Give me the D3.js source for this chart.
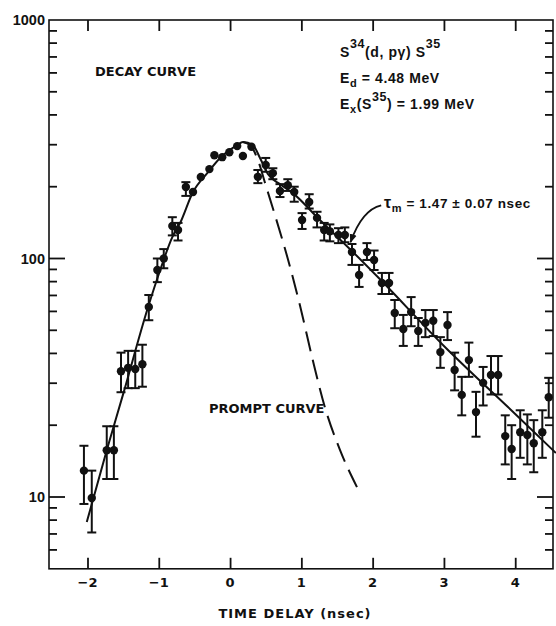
<!DOCTYPE html>
<html>
<head>
<meta charset="utf-8">
<script src="https://cdn.jsdelivr.net/npm/d3@7"></script>
<style>
  html, body { margin: 0; padding: 0; background: #fff; }
  svg text { font-family: "DejaVu Sans", sans-serif; font-weight: bold; fill: #111; }
  svg text.lib { font-family: "Liberation Sans", Arial, sans-serif; }
</style>
</head>
<body>
<svg id="chart" width="556" height="626"></svg>
<script>
// ---------- data ----------
const xTicks = [-2, -1, 0, 1, 2, 3, 4];
const xTickLabels = ["\u22122", "\u22121", "0", "1", "2", "3", "4"];
const yTicks = [10, 100, 1000];
const yTickLabels = ["10", "100", "1000"];

const timeNs = [-2.05, -1.94, -1.73, -1.63, -1.53, -1.43, -1.33, -1.23, -1.14, -1.02,
  -0.93, -0.81, -0.73, -0.62, -0.52, -0.41, -0.29, -0.22, -0.11, -0.01,
  0.10, 0.18, 0.30, 0.39, 0.50, 0.60, 0.70, 0.81, 0.90, 1.01,
  1.11, 1.22, 1.32, 1.40, 1.52, 1.61, 1.71, 1.81, 1.92, 2.02,
  2.13, 2.23, 2.31, 2.43, 2.54, 2.64, 2.74, 2.85, 2.95, 3.05,
  3.15, 3.25, 3.35, 3.45, 3.55, 3.66, 3.76, 3.86, 3.95, 4.07,
  4.17, 4.26, 4.38, 4.47];
const counts = [12.9, 9.9, 15.7, 15.7, 33.7, 34.8, 34.4, 36, 62.6, 89.5,
  100, 136.8, 131.7, 199.5, 190, 219.6, 237, 271, 266, 279,
  296, 269, 294, 220, 246.6, 228, 192, 203, 190, 145,
  172.6, 148, 131.7, 130, 125.5, 125.5, 106.5, 85.3, 106.5, 98.6,
  78.9, 78.9, 59.1, 50.6, 59.6, 49.7, 53.7, 54.8, 40.5, 52.6,
  34.1, 26.8, 37.5, 22.7, 30.1, 32.5, 32.5, 18.0, 15.9, 18.7,
  18.2, 16.8, 18.7, 26.2];
const errLow = [9.35, 7.1, 11.9, 11.9, 27.5, 28.6, 28.6, 29, 55.1, 79.6,
  91, 125, 119, 183, null, null, null, null, null, null,
  null, null, null, 207, 231, 215, 181, 192, 173, 133,
  162, 135, 119, 118, 116, 117, 94, 76, 98.6, 89.5,
  71, 71, 51, 43, 52, 43, 46.8, 47.3, 34.8, 45.5,
  28, 22, 31.9, 17.9, 24.2, 26.9, 26.9, 13.7, 11.9, 14.6,
  13.7, 12.7, 14.6, 21.5];
const errHigh = [16.4, 12.9, 19.8, 19.8, 40.3, 41, 41, 43.5, 70.3, 100,
  109.5, 149, 141, 209, null, null, null, null, null, null,
  null, null, null, 235, 264, 239, 205, 215, 200, 155,
  186, 157, 141, 139, 134, 135, 115, 94, 116, 108,
  87, 87, 67, 58, 68.9, 56.3, 60.8, 60.8, 46.8, 59.6,
  40.3, 31.9, 44.4, 27.6, 35.1, 39, 39, 22.0, 20.0, 23.1,
  22.2, 21.0, 23.1, 31.6];

// decay curve (solid)
const decayX = [-2.01, -1.73, -1.50, -1.15, -0.98, -0.81, -0.70, -0.52, -0.32, -0.14,
  0.10, 0.18, 0.32, 0.42, 0.53, 0.70, 0.88, 1.26, 1.73, 2.10, 3.0, 4.0, 4.57];
const decayY = [7.85, 15.7, 27.0, 62.6, 89.5, 123, 141, 190, 228, 264,
  299, 308, 299, 264, 226, 205, 188, 145, 106, 82, 43, 22.3, 15.3];

// prompt curve (dashed)
const promptX = [0.18, 0.28, 0.39, 0.50, 0.63, 0.84, 0.98, 1.16, 1.33, 1.54, 1.78];
const promptY = [308, 299, 259, 203, 152, 92.5, 63.7, 37.5, 23.8, 15.8, 11.0];

// ---------- scales ----------
const svg = d3.select("#chart");
const x = d3.scaleLinear().domain([-2.54, 4.53]).range([49, 553]);
const y = d3.scaleLog().domain([5, 1000]).range([568.8, 20]);
const [x0, x1] = x.range();
const yTop = y(1000), yBot = y(5);

// ---------- frame ----------
svg.append("rect")
  .attr("x", x0).attr("y", yTop)
  .attr("width", x1 - x0).attr("height", yBot - yTop)
  .attr("fill", "none").attr("stroke", "#111").attr("stroke-width", 1.6);

// y minor/major ticks (left and right, inside)
const yAllTicks = [];
[1, 10, 100].forEach(d => { for (let k = 1; k <= 9; k++) yAllTicks.push(d * k); });
const yTickVals = yAllTicks.filter(v => v > 5 && v < 1000);

const gL = svg.append("g").attr("transform", `translate(${x0},0)`);
gL.selectAll("line.t").data(yTickVals).join("line")
  .attr("x1", 0).attr("x2", d => (yTicks.includes(d) ? 16 : 8))
  .attr("y1", d => y(d)).attr("y2", d => y(d))
  .attr("stroke", "#111").attr("stroke-width", 1.8);

const gR = svg.append("g").attr("transform", `translate(${x1},0)`);
gR.selectAll("line.t").data(yTickVals).join("line")
  .attr("x1", 0).attr("x2", d => (yTicks.includes(d) ? -16 : -8))
  .attr("y1", d => y(d)).attr("y2", d => y(d))
  .attr("stroke", "#111").attr("stroke-width", 1.8);

// y labels
svg.append("g").selectAll("text").data(yTicks).join("text")
  .attr("class", "lib")
  .attr("x", x0 - 4).attr("y", d => y(d))
  .attr("text-anchor", "end").attr("dominant-baseline", "central")
  .attr("font-size", 14.5)
  .text((d, i) => yTickLabels[i]);

// x ticks bottom & top (inside)
const xAxisB = d3.axisTop(x).tickValues(xTicks).tickSize(11).tickFormat("");
const gB = svg.append("g").attr("transform", `translate(0,${yBot})`).call(xAxisB);
gB.select(".domain").remove();
gB.selectAll("line").attr("stroke", "#111").attr("stroke-width", 1.8);

const xAxisT = d3.axisBottom(x).tickValues(xTicks).tickSize(11).tickFormat("");
const gT = svg.append("g").attr("transform", `translate(0,${yTop})`).call(xAxisT);
gT.select(".domain").remove();
gT.selectAll("line").attr("stroke", "#111").attr("stroke-width", 1.8);

// x labels
svg.append("g").selectAll("text").data(xTicks).join("text")
  .attr("x", d => x(d)).attr("y", yBot + 14)
  .attr("text-anchor", "middle").attr("dominant-baseline", "central")
  .attr("font-size", 13)
  .text((d, i) => xTickLabels[i]);

svg.append("text")
  .attr("x", 295).attr("y", 613)
  .attr("text-anchor", "middle").attr("dominant-baseline", "central")
  .attr("font-size", 13).attr("letter-spacing", 1)
  .text("TIME DELAY (nsec)");

// ---------- curves ----------
const decayPts = decayX.map((v, i) => [v, decayY[i]]);
const promptPts = promptX.map((v, i) => [v, promptY[i]]);
const line = d3.line().x(d => x(d[0])).y(d => y(d[1])).curve(d3.curveMonotoneX);

svg.append("path").datum(promptPts)
  .attr("d", line).attr("fill", "none")
  .attr("stroke", "#111").attr("stroke-width", 2)
  .attr("stroke-dasharray", "20,9");

svg.append("path").datum(decayPts)
  .attr("d", line).attr("fill", "none")
  .attr("stroke", "#111").attr("stroke-width", 2);

// ---------- error bars & points ----------
const pts = timeNs.map((t, i) => ({ t, c: counts[i], lo: errLow[i], hi: errHigh[i] }));
const eb = svg.append("g").attr("stroke", "#111").attr("stroke-width", 2);
pts.filter(d => d.lo !== null).forEach(d => {
  const cx = x(d.t);
  eb.append("line").attr("x1", cx).attr("x2", cx).attr("y1", y(d.lo)).attr("y2", y(d.hi));
  eb.append("line").attr("x1", cx - 4.5).attr("x2", cx + 4.5).attr("y1", y(d.lo)).attr("y2", y(d.lo));
  eb.append("line").attr("x1", cx - 4.5).attr("x2", cx + 4.5).attr("y1", y(d.hi)).attr("y2", y(d.hi));
});
svg.append("g").selectAll("circle").data(pts).join("circle")
  .attr("cx", d => x(d.t)).attr("cy", d => y(d.c)).attr("r", 4.2)
  .attr("fill", "#111");

// ---------- annotations ----------
svg.append("text").attr("x", 95).attr("y", 76).attr("font-size", 13)
  .text("DECAY CURVE");
svg.append("text").attr("x", 209).attr("y", 413).attr("font-size", 13)
  .text("PROMPT CURVE");

const t1 = svg.append("text").attr("class", "lib").attr("x", 340).attr("y", 57)
  .attr("font-size", 14).attr("letter-spacing", 0.6);
t1.append("tspan").text("S");
t1.append("tspan").attr("dy", -9).attr("font-size", 12.5).text("34");
t1.append("tspan").attr("dy", 9).text("(d, p\u03b3) S");
t1.append("tspan").attr("dy", -9).attr("font-size", 12.5).text("35");

const t2 = svg.append("text").attr("class", "lib").attr("x", 340).attr("y", 83)
  .attr("font-size", 14).attr("letter-spacing", 0.6);
t2.append("tspan").text("E");
t2.append("tspan").attr("dy", 4).attr("font-size", 11).text("d");
t2.append("tspan").attr("dy", -4).text(" = 4.48 MeV");

const t3 = svg.append("text").attr("class", "lib").attr("x", 340).attr("y", 109)
  .attr("font-size", 14).attr("letter-spacing", 0.6);
t3.append("tspan").text("E");
t3.append("tspan").attr("dy", 4).attr("font-size", 11).text("x");
t3.append("tspan").attr("dy", -4).text("(S");
t3.append("tspan").attr("dy", -8).attr("font-size", 12.5).text("35");
t3.append("tspan").attr("dy", 8).text(") = 1.99 MeV");

const t4 = svg.append("text").attr("class", "lib").attr("x", 384).attr("y", 208)
  .attr("font-size", 13.5).attr("letter-spacing", 0.6);
t4.append("tspan").attr("font-size", 16).text("\u03c4");
t4.append("tspan").attr("dy", 4).attr("font-size", 11).text("m");
t4.append("tspan").attr("dy", -4).text(" = 1.47 \u00b1 0.07 nsec");

// arrow
const defs = svg.append("defs");
defs.append("marker").attr("id", "ah").attr("viewBox", "0 0 10 10")
  .attr("refX", 9).attr("refY", 5).attr("markerWidth", 9).attr("markerHeight", 9)
  .attr("markerUnits", "userSpaceOnUse").attr("orient", "auto")
  .append("path").attr("d", "M0,1 L10,5 L0,9 Z").attr("fill", "#111");
const aStart = [2.12, 167], aCtrl = [1.85, 160], aTip = [1.69, 117];
svg.append("path")
  .attr("d", `M${x(aStart[0])},${y(aStart[1])} Q${x(aCtrl[0])},${y(aCtrl[1])} ${x(aTip[0])},${y(aTip[1])}`)
  .attr("fill", "none").attr("stroke", "#111").attr("stroke-width", 1.8)
  .attr("marker-end", "url(#ah)");
</script>
</body>
</html>
